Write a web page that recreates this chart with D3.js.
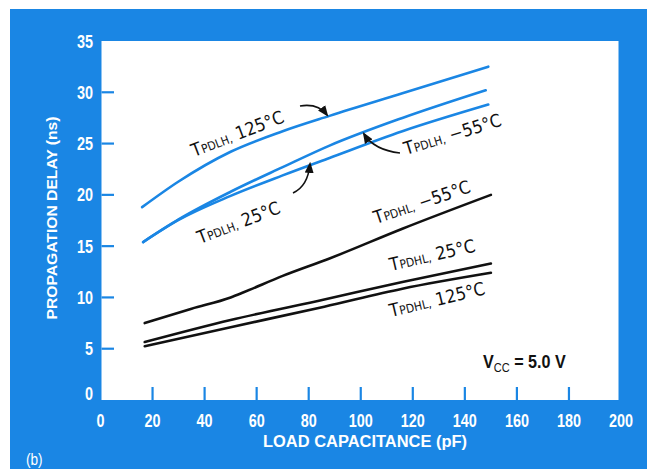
<!DOCTYPE html>
<html><head><meta charset="utf-8">
<script src="https://cdn.jsdelivr.net/npm/d3@7"></script>
<style>body{margin:0;background:#fff}svg{display:block}</style>
</head><body>
<svg id="c" width="647" height="469"></svg>
<script>
// ---- data ----
const xTicks = [0,20,40,60,80,100,120,140,160,180,200];
const yTicks = [0,5,10,15,20,25,30,35];
const lh125 = [[16,18.8],[30,21.3],[50,24.2],[70,26.2],[88,27.7],[116,29.9],[149,32.5]];
const lhM55 = [[16.4,15.4],[30,17.6],[50,20.3],[70,22.7],[88,24.8],[116,27.5],[148,30.2]];
const lh25  = [[16.4,15.4],[30,17.55],[50,19.9],[70,21.9],[88,23.6],[116,26.2],[149,28.8]];
const hlM55 = [[17,7.5],[35,8.9],[50,10.0],[55,10.5],[70,12.1],[88,13.8],[116,16.7],[150,20.0]];
const hl25  = [[17,5.65],[50,7.8],[86,9.8],[116,11.5],[150,13.3]];
const hl125 = [[17,5.25],[50,7.1],[86,9.1],[116,10.85],[150,12.4]];

const BLUE = "#1a86e4";
const svg = d3.select("#c");
const x = d3.scaleLinear().domain([0,200]).range([100.5,621]);
const y = d3.scaleLinear().domain([0,35]).range([400,41]);
const sans = "'Liberation Sans',Arial,sans-serif";

svg.append("rect").attr("x",10).attr("y",9).attr("width",637).attr("height",460).attr("fill",BLUE);
svg.append("rect").attr("x",101.5).attr("y",41).attr("width",517).attr("height",359).attr("fill","#fff");

// ticks
svg.selectAll(".xt").data(xTicks.filter(d=>d>0&&d<200)).enter().append("line")
  .attr("x1",d=>x(d)).attr("x2",d=>x(d)).attr("y1",400).attr("y2",387)
  .attr("stroke",BLUE).attr("stroke-width",2.2);
svg.selectAll(".yt").data(yTicks.filter(d=>d>0&&d<35)).enter().append("line")
  .attr("x1",101.5).attr("x2",114).attr("y1",d=>y(d)).attr("y2",d=>y(d))
  .attr("stroke",BLUE).attr("stroke-width",2.2);

// tick labels (condensed via horizontal scaling)
svg.selectAll(".xl").data(xTicks).enter().append("text")
  .attr("transform",d=>`translate(${x(d)},427) scale(0.8,1)`).attr("text-anchor","middle")
  .attr("fill","#fff").attr("font-family",sans).attr("font-weight","bold").attr("font-size",18)
  .text(d=>d);
svg.selectAll(".yl").data(yTicks).enter().append("text")
  .attr("transform",d=>`translate(93,${d===0?400:y(d)+6.5}) scale(0.8,1)`).attr("text-anchor","end")
  .attr("fill","#fff").attr("font-family",sans).attr("font-weight","bold").attr("font-size",18)
  .text(d=>d);

// axis titles
svg.append("text").attr("transform","translate(57,218) rotate(-90)")
  .attr("text-anchor","middle").attr("fill","#fff").attr("font-family",sans)
  .attr("font-weight","bold").attr("font-size",14).attr("textLength",203).attr("lengthAdjust","spacingAndGlyphs")
  .text("PROPAGATION DELAY (ns)");
svg.append("text").attr("x",365).attr("y",447)
  .attr("text-anchor","middle").attr("fill","#fff").attr("font-family",sans)
  .attr("font-weight","bold").attr("font-size",16).attr("textLength",204).attr("lengthAdjust","spacingAndGlyphs")
  .text("LOAD CAPACITANCE (pF)");
svg.append("text").attr("transform","translate(26,465) scale(0.85,1)").attr("fill","#fff").attr("font-family",sans)
  .attr("font-size",16).text("(b)");

// curves
const line = d3.line().x(d=>x(d[0])).y(d=>y(d[1])).curve(d3.curveMonotoneX);
[[lh125,BLUE],[lhM55,BLUE],[lh25,BLUE],[hlM55,"#111"],[hl25,"#111"],[hl125,"#111"]].forEach(([d,c])=>{
  svg.append("path").datum(d).attr("d",line).attr("fill","none").attr("stroke",c)
    .attr("stroke-width",2.6).attr("stroke-linecap","round");
});

// annotations
const labels = [
  {x:194,y:157,a:-21,sub:"PDLH",t:" 125°C"},
  {x:200,y:244,a:-21,sub:"PDLH",t:" 25°C"},
  {x:406,y:155,a:-17,sub:"PDLH",t:" −55°C"},
  {x:376,y:224,a:-18.5,sub:"PDHL",t:" −55°C"},
  {x:391,y:271,a:-13,sub:"PDHL",t:" 25°C"},
  {x:391,y:317,a:-13.5,sub:"PDHL",t:" 125°C"}
];
const lf = "'DejaVu Sans Condensed','Liberation Sans',sans-serif";
labels.forEach(l=>{
  const t = svg.append("text").attr("transform",`translate(${l.x},${l.y}) rotate(${l.a})`)
    .attr("font-family",lf).attr("fill","#111").attr("font-size",18);
  t.append("tspan").text("T");
  t.append("tspan").attr("font-size",12).text(l.sub+",");
  t.append("tspan").text(l.t);
});

svg.append("defs").append("marker").attr("id","ah").attr("viewBox","0 0 10 10")
  .attr("refX",8).attr("refY",5).attr("markerWidth",7).attr("markerHeight",7).attr("orient","auto")
  .append("path").attr("d","M0,1 L10,5 L0,9 Z").attr("fill","#111");
const arrows = ["M300,106 Q318,103 327,115","M293,193 Q308,186 310,164","M400,153 Q374,150 364,134"];
arrows.forEach(a=>svg.append("path").attr("d",a).attr("fill","none").attr("stroke","#111")
  .attr("stroke-width",1.6).attr("marker-end","url(#ah)"));

// Vcc
const v = svg.append("text").attr("transform","translate(483,368) scale(0.85,1)").attr("font-family",sans)
  .attr("font-weight","bold").attr("font-size",19).attr("fill","#111");
v.append("tspan").text("V");
v.append("tspan").attr("font-size",13).attr("font-weight","normal").attr("dy",4).text("CC");
v.append("tspan").attr("dy",-4).text(" = 5.0 V");
</script>
</body></html>
